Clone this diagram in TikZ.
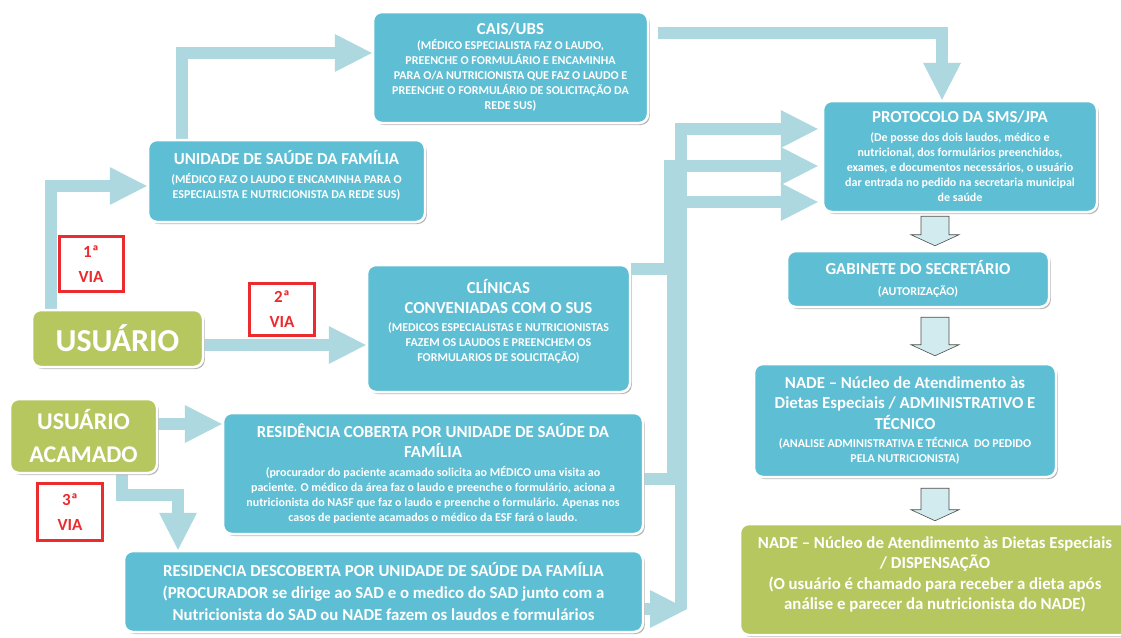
\documentclass[tikz,border=0pt]{standalone}
\usepackage{fontspec}
\setmainfont{Carlito}
\usetikzlibrary{arrows.meta,shadows,calc}
\definecolor{boxblue}{HTML}{5EBED3}
\definecolor{boxgreen}{HTML}{B7C75F}
\definecolor{flowc}{HTML}{ADD8DF}
\definecolor{viared}{HTML}{EC2B2F}
\definecolor{blkfill}{HTML}{D2EBEF}
\newcommand\ttlf{\fontsize{16.8}{20}\selectfont}
\newcommand\smlf{\fontsize{12}{15}\selectfont}
\newcommand\blkarrow[4]{\draw[blk] let \p1=(#1.south -| ax), \p2=(#2.north -| ax) in
 (\x1-14pt,\y1-#3) -- (\x1+14pt,\y1-#3) -- (\x1+14pt,\y2+#4+11pt) -- (\x1+24pt,\y2+#4+11pt)
 -- (\x1,\y2+#4) -- (\x1-24pt,\y2+#4+11pt) -- (\x1-14pt,\y2+#4+11pt) -- cycle;}
\pgfdeclarelayer{background}
\pgfsetlayers{background,main}
\begin{document}
\begin{tikzpicture}[x=1pt,y=-1pt,
  box/.style={rounded corners=9pt, draw=white, line width=2.5pt, text=white, font=\bfseries\smlf,
    align=center, inner sep=2pt,
    drop shadow={shadow xshift=1.8pt, shadow yshift=-2pt, fill=black!40, opacity=0.7}},
  bluebox/.style={box, fill=boxblue},
  greenbox/.style={box, fill=boxgreen},
  txt/.style={text=white, font=\bfseries\smlf, align=center, inner sep=0pt},
  flow/.style={draw=flowc, line width=12.5pt, line join=miter,
    -{Triangle[width=38pt,length=37pt,line width=0pt]}},
  via/.style={draw=viared, line width=3pt, fill=white, text=viared,
    font=\bfseries\fontsize{17}{25}\selectfont, align=center, inner sep=0pt},
  blk/.style={draw=gray!60!black, line width=0.6pt, fill=blkfill}]
\useasboundingbox (0,0) rectangle (1121,637);

% boxes
\node[bluebox, minimum width=275pt, minimum height=111pt] (cais) at (510.5,67.5)
 {\ttlf CAIS/UBS\\ (MÉDICO ESPECIALISTA FAZ O LAUDO,\\ PREENCHE O FORMULÁRIO E ENCAMINHA\\
  PARA O/A NUTRICIONISTA QUE FAZ O LAUDO E\\ PREENCHE O FORMULÁRIO DE SOLICITAÇÃO DA\\ REDE SUS)};
\node[bluebox, minimum width=277pt, minimum height=82pt] (usf) at (286.5,181) {};
\node[txt] at ([yshift=6pt]usf.center)
 {\ttlf UNIDADE DE SAÚDE DA FAMÍLIA\\[4pt] (MÉDICO FAZ O LAUDO E ENCAMINHA PARA O\\ ESPECIALISTA E NUTRICIONISTA DA REDE SUS)};
\node[bluebox, minimum width=263pt, minimum height=127pt] (clin) at (498.5,328.5) {};
\node[txt] at ([yshift=7pt]clin.center)
 {\ttlf CLÍNICAS\\[5pt] \ttlf CONVENIADAS COM O SUS\\[3pt] (MEDICOS ESPECIALISTAS E NUTRICIONISTAS\\ FAZEM OS LAUDOS E PREENCHEM OS\\ FORMULARIOS DE SOLICITAÇÃO)};
\node[bluebox, minimum width=274pt, minimum height=111pt] (prot) at (960,156.5)
 {\ttlf PROTOCOLO DA SMS/JPA\\[4pt] (De posse dos dois laudos, médico e\\ nutricional, dos formulários preenchidos,\\
  exames, e documentos necessários, o usuário\\ dar entrada no pedido na secretaria municipal\\ de saúde};
\node[bluebox, minimum width=262pt, minimum height=56pt] (gab) at (918,279)
 {\ttlf GABINETE DO SECRETÁRIO\\[6pt] (AUTORIZAÇÃO)};
\node[bluebox, font=\bfseries\fontsize{16.8}{20.5}\selectfont, minimum width=302pt, minimum height=113pt] (nade1) at (905,420.5)
 {NADE – Núcleo de Atendimento às\\ Dietas Especiais / ADMINISTRATIVO E\\ TÉCNICO\\[-2.5pt]
  \smlf (ANALISE ADMINISTRATIVA E TÉCNICA\ \ DO PEDIDO\\[-5.5pt] \smlf PELA NUTRICIONISTA)};
\node[greenbox, minimum width=390pt, minimum height=111pt] (nade2) at (935,579.5) {};
\node[txt, font=\bfseries\fontsize{16.8}{20.5}\selectfont] at ([yshift=5pt]nade2.center)
 {NADE – Núcleo de Atendimento às Dietas Especiais\\ / DISPENSAÇÃO\\
  (O usuário é chamado para receber a dieta após\\ análise e parecer da nutricionista do NADE)};
\node[greenbox, font=\bfseries\fontsize{32}{36}\selectfont, minimum width=171pt, minimum height=57pt] (usuario) at (117.5,338.5)
 {USUÁRIO};
\node[greenbox, font=\bfseries\fontsize{24}{33}\selectfont, minimum width=147pt, minimum height=74pt] (acamado) at (83.5,436)
 {USUÁRIO\\ ACAMADO};
\node[bluebox, minimum width=420pt, minimum height=121pt] (coberta) at (433,473.5)
 {\ttlf RESIDÊNCIA COBERTA POR UNIDADE DE SAÚDE DA\\[5pt] \ttlf FAMÍLIA\\[4pt]
  (procurador do paciente acamado solicita ao MÉDICO uma visita ao\\
  paciente. O médico da área faz o laudo e preenche o formulário, aciona a\\
  nutricionista do NASF que faz o laudo e preenche o formulário. Apenas nos\\
  casos de paciente acamados o médico da ESF fará o laudo.};
\node[bluebox, font=\bfseries\fontsize{16.8}{22}\selectfont, minimum width=519pt, minimum height=81pt] (descob) at (383.5,591.5)
 {RESIDENCIA DESCOBERTA POR UNIDADE DE SAÚDE DA FAMÍLIA\\
  (PROCURADOR se dirige ao SAD e o medico do SAD junto com a\\
  Nutricionista do SAD ou NADE fazem os laudos e formulários};

% via labels
\node[via, minimum width=64pt, minimum height=55pt] (v1) at (91,264) {1ª\\ VIA};
\node[via, minimum width=65pt, minimum height=52pt] (v2) at (282,309.5) {2ª\\ VIA};
\node[via, minimum width=65pt, minimum height=57pt] (v3) at (70,512) {3ª\\ VIA};

% connectors
\begin{pgfonlayer}{background}
\fill[white] (0,0) rectangle (1121,637);
\coordinate (c1) at (51,186);
\draw[flow] (usuario.north -| c1) |- (usf.west |- c1);
\coordinate (c2) at (182,53);
\draw[flow] (usf.north -| c2) |- (cais.west |- c2);
\coordinate (c3) at (942,33);
\draw[flow, shorten <=9pt] (cais.east |- c3) -| (prot.north -| c3);
\coordinate (c4) at (0,345);
\draw[flow] (usuario.east |- c4) -- (clin.west |- c4);
\coordinate (c5) at (0,424);
\draw[flow] (acamado.east |- c5) -- (coberta.west |- c5);
\coordinate (c6a) at (122,495);
\coordinate (c6b) at (178,495);
\draw[flow] (acamado.south -| c6a) -- (c6a) -- (c6b) -- (descob.north -| c6b);
\coordinate (r1) at (670,269);
\coordinate (r1t) at (670,166);
\draw[flow, shorten >=4pt] (clin.east |- r1) -- (r1) -- (r1t) -- (prot.west |- r1t);
\coordinate (r2) at (673,479);
\coordinate (r2t) at (673,202);
\draw[flow, shorten >=4pt] (coberta.east |- r2) -- (r2) -- (r2t) -- (prot.west |- r2t);
\coordinate (r3s) at (681,609);
\coordinate (r3t) at (681,129);
\draw[flow, shorten >=4pt] (r3s) -- (r3t) -- (prot.west |- r3t);
\draw[flow] (descob.east |- r3s) -- ($(r3s)+(6,0)$);
\end{pgfonlayer}

\coordinate (ax) at (935,0);
\blkarrow{prot}{gab}{3pt}{4pt}
\blkarrow{gab}{nade1}{9pt}{7pt}
\blkarrow{nade1}{nade2}{10pt}{2pt}
\end{tikzpicture}
\end{document}
